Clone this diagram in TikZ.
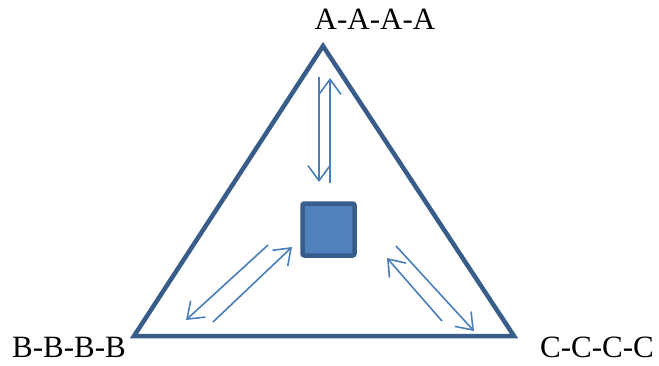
\documentclass[tikz,border=0pt]{standalone}
\usepackage{fontspec}
\setmainfont{Liberation Serif}
\usetikzlibrary{arrows.meta}
\definecolor{edgeblue}{HTML}{385D8A}
\definecolor{fillblue}{HTML}{4F81BD}
\definecolor{arrblue}{HTML}{4A7EBB}
\begin{document}
\begin{tikzpicture}[x=1pt,y=-1pt,line join=miter,font=\fontsize{31}{33}\selectfont]
		\tikzset{tri/.style={draw=edgeblue,line width=4.5pt},
			link/.style={draw=arrblue,line width=1.6pt,-{Straight Barb[length=15pt,width=22pt]}},
			corner/.style={anchor=base,inner sep=0pt}
		}
		\useasboundingbox (0,0) rectangle (659,365);
		\coordinate (top) at (323,46);
		\coordinate (left) at (134,336);
		\coordinate (right) at (514,336);
		\draw[tri] (top)--(left)--(right)--cycle;
		\node[draw=edgeblue,fill=fillblue,line width=4.5pt,rounded corners=2pt,minimum size=52pt,inner sep=0pt] (box) at (328.5,229.5){};
		\node[corner] (la) at (375,29){A-A-A-A};
		\node[corner] (lb) at (69,357){B-B-B-B};
		\node[corner] (lc) at (597,357){C-C-C-C};
		\coordinate (a1) at (319,77); \coordinate (a2) at (319,182);
		\coordinate (a3) at (330,183); \coordinate (a4) at (330,78);
		\coordinate (b1) at (268,245); \coordinate (b2) at (186,320);
		\coordinate (b3) at (213,322); \coordinate (b4) at (292,247);
		\coordinate (c1) at (442,321); \coordinate (c2) at (387,258);
		\coordinate (c3) at (396,246); \coordinate (c4) at (474,331);
		\draw[link] (a1)--(a2);
		\draw[link] (a3)--(a4);
		\draw[link] (b1)--(b2);
		\draw[link] (b3)--(b4);
		\draw[link] (c1)--(c2);
		\draw[link] (c3)--(c4);
	\end{tikzpicture}
\end{document}
